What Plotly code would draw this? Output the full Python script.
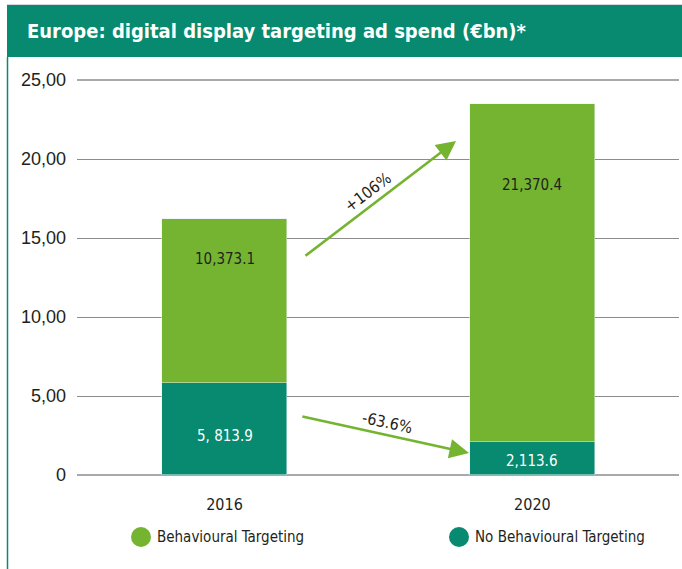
import plotly.graph_objects as go

# ---------------- data ----------------
years = ["2016", "2020"]
no_behavioural = [5.8139, 2.1136]          # €bn
behavioural = [10.3731, 21.3704]           # €bn
no_behavioural_labels = ["5, 813.9", "2,113.6"]
behavioural_labels = ["10,373.1", "21,370.4"]
changes = ["+106%", "-63.6%"]
series_names = ["Behavioural Targeting", "No Behavioural Targeting"]
y_tickvals = [0, 5, 10, 15, 20, 25]
y_ticktext = ["0", "5,00", "10,00", "15,00", "20,00", "25,00"]

TEAL = "#078a6f"
GREEN = "#74b430"
DARK = "#231f20"
GRID = "#8c8c8c"
NARROW = "DejaVu Sans Condensed, DejaVu Sans, sans-serif"

W, H = 682, 569
L, R, T, B = 77, 3, 79, 93
pw, ph = W - L - R, H - T - B
PAD = 25 / 395  # one pixel in data units

def px_x(p):
    return (p - L) / pw

def px_y(p):
    return (H - B - p) / ph

xpos = list(range(len(years)))

fig = go.Figure()
fig.add_trace(go.Bar(x=xpos, y=no_behavioural, marker_color=TEAL, width=0.406,
                     name=series_names[1], showlegend=False, hoverinfo="skip"))
fig.add_trace(go.Bar(x=xpos, y=behavioural, marker_color=GREEN, width=0.406,
                     name=series_names[0], showlegend=False, hoverinfo="skip"))

annotations = []
# value labels
for i in xpos:
    annotations.append(dict(x=i, y=no_behavioural[i] * 0.42, text=no_behavioural_labels[i],
                            showarrow=False, font=dict(family=NARROW, size=15, color="white")))
    annotations.append(dict(x=i, y=no_behavioural[i] + behavioural[i] * 0.76, text=behavioural_labels[i],
                            showarrow=False, font=dict(family=NARROW, size=15, color=DARK)))

# change arrows
arrows = [((0.258, 13.8), (0.752, 21.14)), ((0.248, 3.73), (0.794, 1.39))]
for (tx, ty), (hx, hy) in arrows:
    annotations.append(dict(x=hx, y=hy, ax=tx, ay=ty, xref="x", yref="y", axref="x", ayref="y",
                            text="", showarrow=True, arrowhead=2, arrowsize=1.5, arrowwidth=2.6,
                            arrowcolor=GREEN, standoff=0, startstandoff=0))
annotations.append(dict(x=0.463, y=17.91, text=changes[0], textangle=-37, showarrow=False,
                        font=dict(family=NARROW, size=16, color=DARK)))
annotations.append(dict(x=0.528, y=3.35, text=changes[1], textangle=12, showarrow=False,
                        font=dict(family=NARROW, size=16, color=DARK)))

# title
annotations.append(dict(xref="paper", yref="paper", x=px_x(25), y=px_y(31), xanchor="left",
                        yanchor="middle", showarrow=False,
                        text="<b>Europe: digital display targeting ad spend (€bn)*</b>",
                        font=dict(family=NARROW, size=20, color="white")))

shapes = [
    dict(type="rect", xref="paper", yref="paper", x0=px_x(7), x1=px_x(683), y0=px_y(57), y1=px_y(5),
         fillcolor=TEAL, line=dict(width=0), layer="above"),
    dict(type="line", xref="paper", yref="paper", x0=px_x(7.5), x1=px_x(7.5), y0=px_y(570), y1=px_y(57),
         line=dict(color=TEAL, width=1.5)),
    dict(type="line", xref="paper", yref="paper", x0=px_x(7), x1=px_x(683), y0=px_y(4.5), y1=px_y(4.5),
         line=dict(color="#d9d9d9", width=1)),
]
# gridlines at the ends of the value range (plotly skips grid lines on the plot edge)
for v in (y_tickvals[0], y_tickvals[-1]):
    shapes.append(dict(type="line", xref="paper", yref="y", x0=0, x1=1, y0=v, y1=v,
                       line=dict(color=GRID, width=1.3), layer="below"))

# manual legend (round markers)
legend_items = [(series_names[0], GREEN, 141), (series_names[1], TEAL, 459)]
for name, col, cx in legend_items:
    shapes.append(dict(type="circle", xref="paper", yref="paper", xsizemode="pixel", ysizemode="pixel",
                       xanchor=px_x(cx), yanchor=px_y(537), x0=-10, x1=10, y0=-10, y1=10,
                       fillcolor=col, line=dict(width=0)))
    annotations.append(dict(xref="paper", yref="paper", x=px_x(cx + 14), y=px_y(537), xanchor="left",
                            yanchor="middle", showarrow=False, text=name,
                            font=dict(family=NARROW, size=15, color=DARK)))

fig.update_layout(
    width=W, height=H, margin=dict(l=L, r=R, t=T, b=B, pad=0, autoexpand=False),
    paper_bgcolor="white", plot_bgcolor="white",
    barmode="stack", bargap=0, showlegend=False,
    annotations=annotations, shapes=shapes,
    xaxis=dict(range=[-0.479, 1.476], tickvals=xpos, ticktext=years, showgrid=False,
               zeroline=False, showline=False, ticks="", ticklabelstandoff=17,
               tickfont=dict(family=NARROW, size=16, color=DARK), fixedrange=True),
    yaxis=dict(range=[-PAD, 25 + PAD], tickvals=y_tickvals, ticktext=y_ticktext, showgrid=True,
               gridcolor=GRID, gridwidth=1.3, zeroline=False, showline=False, ticks="",
               ticklabelstandoff=10, tickfont=dict(family="Liberation Sans, Arial, sans-serif", size=18, color=DARK),
               fixedrange=True),
)

fig.write_html("out.html", config={"displayModeBar": False},
               post_script="document.body.style.margin='0';document.body.style.padding='0';")
